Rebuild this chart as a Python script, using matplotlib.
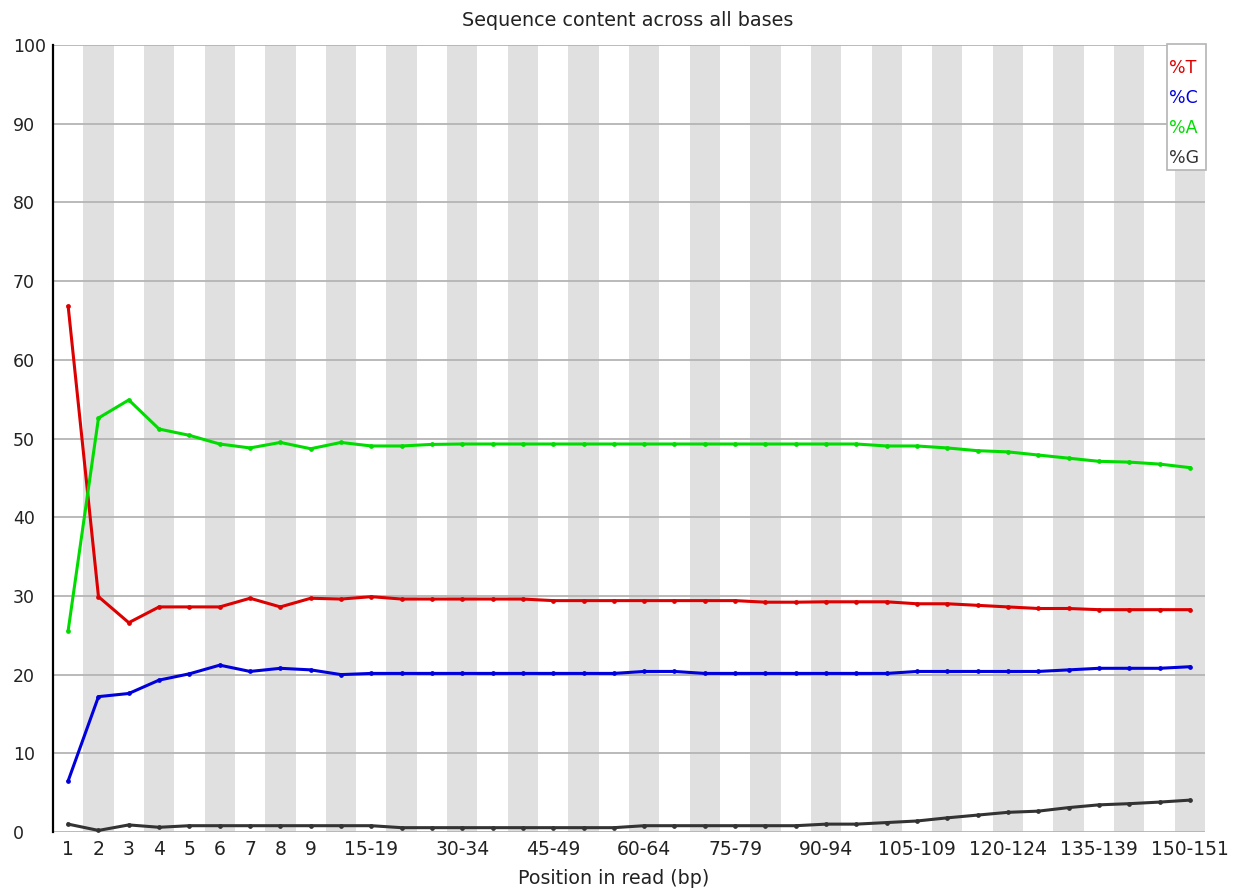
import matplotlib
matplotlib.use("Agg")
import matplotlib.pyplot as plt
from matplotlib.patches import Rectangle

# Position groups along the read
positions = ["1", "2", "3", "4", "5", "6", "7", "8", "9",
             "10-14", "15-19", "20-24", "25-29", "30-34", "35-39", "40-44",
             "45-49", "50-54", "55-59", "60-64", "65-69", "70-74", "75-79",
             "80-84", "85-89", "90-94", "95-99", "100-104", "105-109",
             "110-114", "115-119", "120-124", "125-129", "130-134",
             "135-139", "140-144", "145-149", "150-151"]

# Labelled positions on the x axis
shown_labels = ["1", "2", "3", "4", "5", "6", "7", "8", "9", "15-19",
                "30-34", "45-49", "60-64", "75-79", "90-94", "105-109",
                "120-124", "135-139", "150-151"]

pct_T = [66.8, 29.9, 26.6, 28.6, 28.6, 28.6, 29.7, 28.6, 29.7, 29.6,
         29.9, 29.6, 29.6, 29.6, 29.6, 29.6, 29.4, 29.4, 29.4, 29.4,
         29.4, 29.4, 29.4, 29.2, 29.2, 29.25, 29.25, 29.25, 29.0, 29.0,
         28.8, 28.6, 28.4, 28.4, 28.25, 28.25, 28.25, 28.25]

pct_C = [6.5, 17.2, 17.6, 19.3, 20.1, 21.2, 20.4, 20.8, 20.6, 20.0,
         20.15, 20.15, 20.15, 20.15, 20.15, 20.15, 20.15, 20.15, 20.15, 20.4,
         20.4, 20.15, 20.15, 20.15, 20.15, 20.15, 20.15, 20.15, 20.4, 20.4,
         20.4, 20.4, 20.4, 20.6, 20.8, 20.8, 20.8, 21.0]

pct_A = [25.6, 52.6, 54.9, 51.2, 50.4, 49.3, 48.8, 49.5, 48.7, 49.5,
         49.05, 49.05, 49.25, 49.3, 49.3, 49.3, 49.3, 49.3, 49.3, 49.3,
         49.3, 49.3, 49.3, 49.3, 49.3, 49.3, 49.3, 49.05, 49.05, 48.8,
         48.45, 48.3, 47.9, 47.5, 47.1, 47.0, 46.75, 46.3]

pct_G = [1.0, 0.2, 0.9, 0.6, 0.8, 0.8, 0.8, 0.8, 0.8, 0.8,
         0.8, 0.55, 0.55, 0.55, 0.55, 0.55, 0.55, 0.55, 0.55, 0.8,
         0.8, 0.8, 0.8, 0.8, 0.8, 1.0, 1.0, 1.2, 1.4, 1.8,
         2.15, 2.5, 2.65, 3.1, 3.45, 3.6, 3.8, 4.05]

series_names = ["%T", "%C", "%A", "%G"]
series_values = [pct_T, pct_C, pct_A, pct_G]
series_colors = ["#dc0000", "#0000dc", "#00dc00", "#333333"]

y_ticks = [0, 10, 20, 30, 40, 50, 60, 70, 80, 90, 100]

W, H = 1234, 893
fig = plt.figure(figsize=(W / 100, H / 100), dpi=100)
left, right, top, bottom = 53, 1205, 45, 832
ax = fig.add_axes([left / W, 1 - bottom / H, (right - left) / W, (bottom - top) / H])

n = len(positions)
x = list(range(n))

# Alternating background bands
for i in x:
    if i % 2 == 1:
        ax.axvspan(i - 0.5, i + 0.5, color="#e0e0e0", lw=0, zorder=0)

# Horizontal grid
for yv in y_ticks:
    ax.axhline(yv, color="#b4b4b4", lw=1.3, zorder=1)

for vals, col in zip(series_values, series_colors):
    ax.plot(x, vals, color=col, lw=2.2, marker="o", ms=2.4, zorder=3,
            solid_joinstyle="round")

ax.set_xlim(-0.5, n - 0.5)
ax.set_ylim(0, 100)

for s in ["top", "right", "bottom"]:
    ax.spines[s].set_visible(False)
ax.spines["left"].set_color("black")
ax.spines["left"].set_linewidth(1.6)
ax.spines["left"].set_zorder(4)

ax.set_yticks(y_ticks)
ax.set_yticklabels([str(v) for v in y_ticks])
ax.tick_params(axis="y", length=0, pad=29, labelsize=12.5, labelcolor="#222222")
for lab in ax.get_yticklabels():
    lab.set_horizontalalignment("left")

ax.set_xticks([positions.index(l) for l in shown_labels])
ax.set_xticklabels(shown_labels)
ax.tick_params(axis="x", length=0, pad=6, labelsize=13.5, labelcolor="#222222")

fig.text(614 / W, 1 - 878 / H, "Position in read (bp)",
         ha="center", va="center", fontsize=13.7, color="#222222")
fig.text(628 / W, 1 - 21 / H, "Sequence content across all bases",
         ha="center", va="center", fontsize=13.8, color="#222222")

# Legend box in the upper right corner
bx0, bx1, by0, by1 = 1167, 1206, 44, 170
fig.add_artist(Rectangle((bx0 / W, 1 - by1 / H), (bx1 - bx0) / W, (by1 - by0) / H,
                         transform=fig.transFigure, facecolor="white",
                         edgecolor="#b4b4b4", lw=1.2, zorder=5))
for k, (name, col) in enumerate(zip(series_names, series_colors)):
    fig.text(1169 / W, 1 - (68 + 30 * k) / H, name, color=col,
             ha="left", va="center", fontsize=12.5, zorder=6)

fig.savefig("out.png", dpi=100)
